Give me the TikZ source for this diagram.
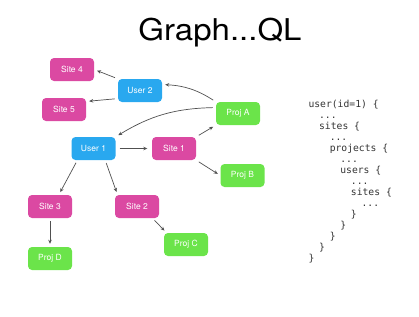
\documentclass[tikz,border=0pt]{standalone}
\usepackage{fontspec}
\setsansfont{TeX Gyre Heros}
\setmonofont{DejaVu Sans Mono}
\usetikzlibrary{arrows.meta}

\definecolor{sitepink}{HTML}{DB49A2}
\definecolor{userblue}{HTML}{29A8EF}
\definecolor{projgreen}{HTML}{6BE44A}
\definecolor{linkgray}{HTML}{505050}
\definecolor{codegray}{HTML}{333333}

\tikzset{
  box/.style={rounded corners=4pt, minimum width=44pt, minimum height=23pt,
    inner sep=0pt, text=white, font=\sffamily\fontsize{8.5}{10}\selectfont},
  user/.style={box, fill=userblue},
  site/.style={box, fill=sitepink},
  proj/.style={box, fill=projgreen},
  link/.style={draw=linkgray, line width=0.7pt, shorten >=3pt, shorten <=3pt,
    arrows={-Stealth[length=4pt, width=3.5pt]}}
}

\newcommand{\lvl}[1]{\hspace*{#1ex}}

\begin{document}
\begin{tikzpicture}[x=1pt, y=-1pt]
\useasboundingbox (0, 0) rectangle (419, 316);

\node (title) at (220, 33) {\scalebox{1.1}[1]{\sffamily\fontsize{30}{32}\selectfont Graph...QL}};

\node (site4) [site] at (72, 69.5) {Site 4};
\node (user2) [user] at (140, 90.5) {User 2};
\node (site5) [site] at (64, 109.5) {Site 5};
\node (projA) [proj] at (238, 113.5) {Proj A};
\node (user1) [user] at (93.5, 148.5) {User 1};
\node (site1) [site] at (174, 148.5) {Site 1};
\node (projB) [proj] at (242.5, 175.5) {Proj B};
\node (site3) [site] at (50, 206.5) {Site 3};
\node (site2) [site] at (137, 206.5) {Site 2};
\node (projC) [proj] at (186, 244.5) {Proj C};
\node (projD) [proj] at (50, 258.5) {Proj D};

\draw [link] (user2.north west) -- (site4.east);
\draw [link] (user2.200) -- (site5.20);
\draw [link] (projA.north west) to [bend right=15] (user2.15);
\draw [link] (projA.165) to [bend right=15] (user1.north east);
\draw [link, shorten >=4.5pt, shorten <=4pt] (user1) -- (site1);
\draw [link] (site1.north east) -- (projA.south west);
\draw [link] (site1.south east) -- (projB.west);
\draw [link] (user1.216) -- (site3.53);
\draw [link] (user1.-45) -- (site2.149);
\draw [link] (site3) -- (projD);
\draw [link] (site2.-37) -- (projC.149);

\node (code) [anchor=north west, align=left, text=codegray,
  font=\ttfamily\fontsize{9.7}{11}\selectfont] at (305, 97) {%
user(id=1) \{\\
\lvl{2}...\\
\lvl{2}sites \{\\
\lvl{4}...\\
\lvl{4}projects \{\\
\lvl{6}...\\
\lvl{6}users \{\\
\lvl{8}...\\
\lvl{8}sites \{\\
\lvl{10}...\\
\lvl{8}\}\\
\lvl{6}\}\\
\lvl{4}\}\\
\lvl{2}\}\\
\}};
\end{tikzpicture}
\end{document}
